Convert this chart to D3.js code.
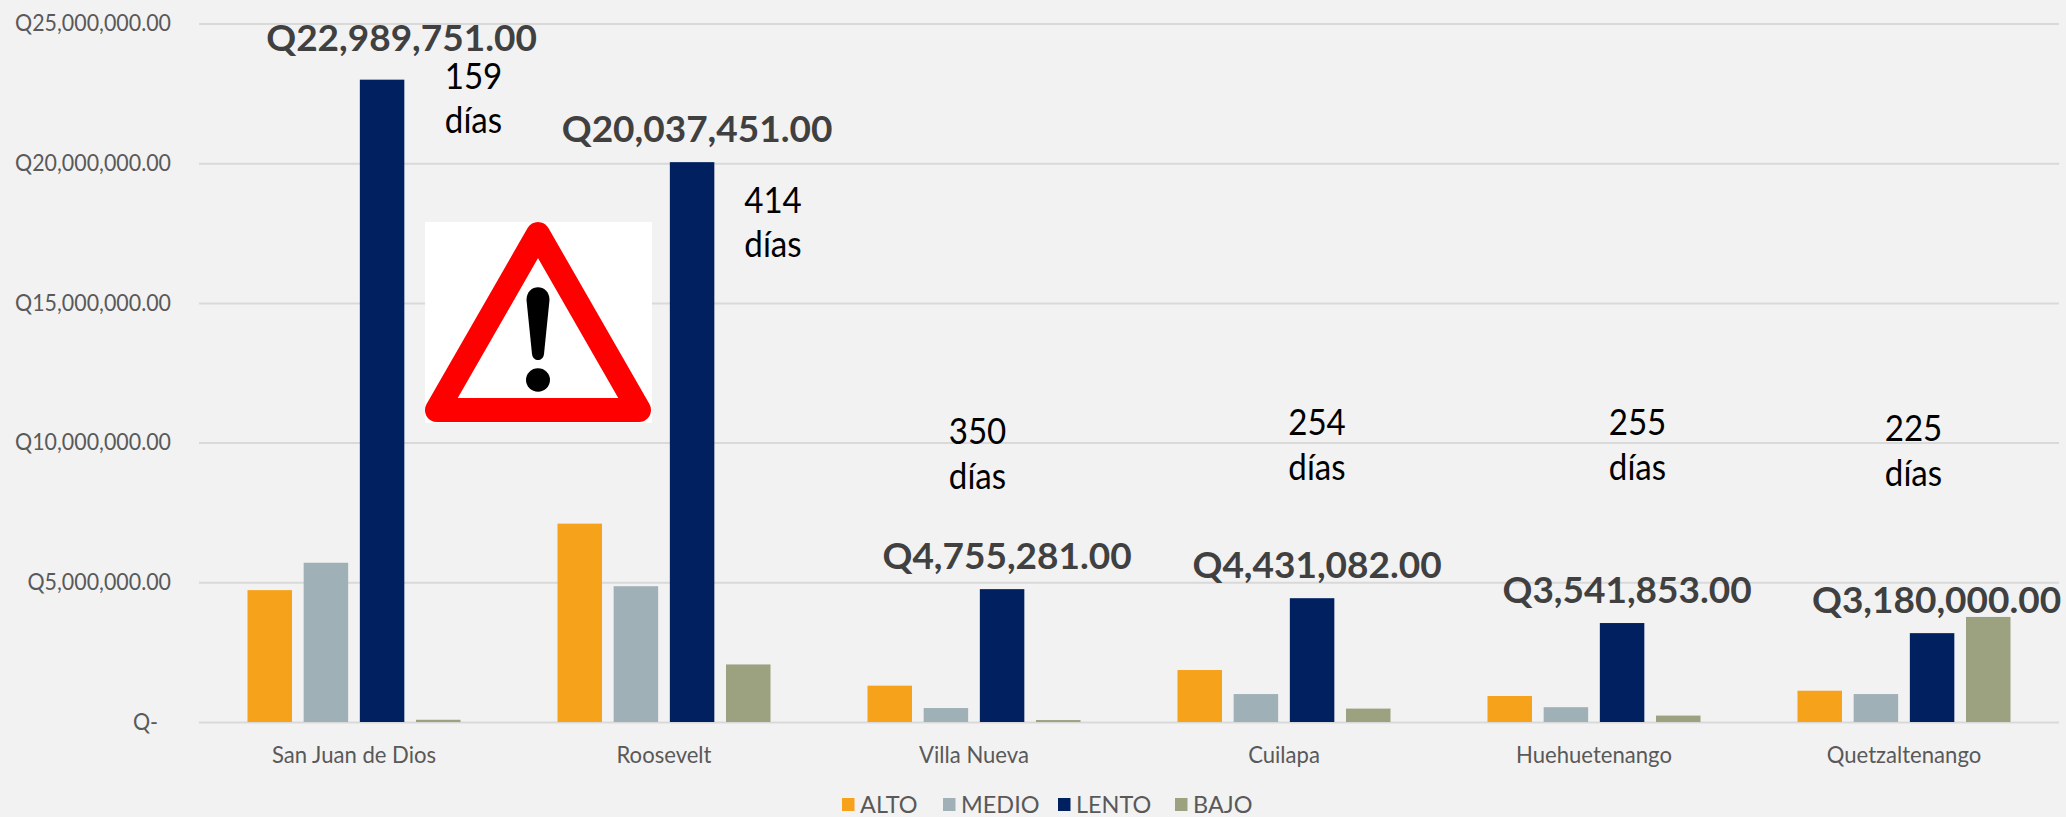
<!DOCTYPE html>
<html><head><meta charset="utf-8">
<script src="https://cdn.jsdelivr.net/npm/d3@7"></script>
<style>
html,body{margin:0;padding:0;background:#f2f2f2;overflow:hidden}
svg{display:block}
text{font-family:Lato,"Open Sans",sans-serif}
</style></head><body>
<svg id="c" width="2066" height="817"></svg>
<script>
// ---- data ----
const categories = ["San Juan de Dios","Roosevelt","Villa Nueva","Cuilapa","Huehuetenango","Quetzaltenango"];
const seriesNames = ["ALTO","MEDIO","LENTO","BAJO"];
const alto  = [4720000,7100000,1300000,1860000,930000,1120000];
const medio = [5700000,4860000,500000,1000000,530000,1000000];
const lento = [22989751,20037451,4755281,4431082,3541853,3180000];
const bajo  = [80000,2060000,70000,480000,230000,3760000];
const dias  = [159,414,350,254,255,225];
const yTicks = [0,5000000,10000000,15000000,20000000,25000000];

// ---- layout and style ----
const W=2066,H=817;
const m={left:199,right:2059,top:23.5,bottom:722};
const colors=["#F7A21B","#9FB0B6","#00205F","#9CA280"];
const labelOffset=[[19.5,-29],[5,-20],[5,-20],[5,-20],[5,-20],[4.5,-20]];
const diasPos=[[473.5,88.7],[773,212.7],[977.5,444],[1317,435],[1637.5,435],[1913.5,441]];
const fmt=d3.format(",.2f");
const svg=d3.select("#c");
// squeeze the humanist fallback to the proportions of the original face
function fit(sel,k){sel.each(function(){const l=this.getComputedTextLength();
  this.setAttribute("textLength",l*k);this.setAttribute("lengthAdjust","spacingAndGlyphs");});}

const x0=d3.scaleBand().domain(categories).range([m.left,m.right]);
const inset=(x0.bandwidth()-213)/2;
const x1=d3.scaleBand().domain(seriesNames).range([inset,x0.bandwidth()-inset]).paddingInner(0.208);
const y=d3.scaleLinear().domain([0,25000000]).range([m.bottom,m.top]);
const color=d3.scaleOrdinal().domain(seriesNames).range(colors);
const seriesValues={ALTO:alto,MEDIO:medio,LENTO:lento,BAJO:bajo};

// y axis + grid
const ya=svg.append("g").attr("transform",`translate(${m.left},0)`)
  .call(d3.axisLeft(y).tickValues(yTicks).tickSize(-(m.right-m.left)).tickPadding(28)
    .tickFormat(d=>d===0?"Q-":"Q"+fmt(d)));
ya.select(".domain").remove();
ya.selectAll("line").attr("stroke","#d9d9d9").attr("stroke-width",2);
ya.selectAll("text").attr("fill","#595959").style("font-size","23px")
  .attr("dx",d=>d===0?-13:0).call(fit,0.93);

// bars
const groups=svg.append("g").selectAll("g").data(categories).join("g")
  .attr("transform",d=>`translate(${x0(d)},0)`);
groups.selectAll("rect").data((d,i)=>seriesNames.map(s=>({s,v:seriesValues[s][i]}))).join("rect")
  .attr("x",d=>x1(d.s)).attr("width",x1.bandwidth())
  .attr("y",d=>y(d.v)).attr("height",d=>y(0)-y(d.v)).attr("fill",d=>color(d.s));

// category labels
const xa=svg.append("g").attr("transform",`translate(0,${m.bottom})`)
  .call(d3.axisBottom(x0).tickSize(0).tickPadding(25));
xa.select(".domain").remove();
xa.selectAll("text").attr("fill","#595959").style("font-size","23px").call(fit,0.96);

// value labels
svg.append("g").selectAll("text").data(lento).join("text")
  .attr("x",(d,i)=>x0(categories[i])+x1("LENTO")+x1.bandwidth()/2+labelOffset[i][0])
  .attr("y",(d,i)=>y(d)+labelOffset[i][1])
  .attr("text-anchor","middle").attr("fill","#404040")
  .style("font-size","37px").style("font-weight","700")
  .text(d=>"Q"+fmt(d)).call(fit,1.0);

// days annotations
const dg=svg.append("g").selectAll("g").data(dias).join("g")
  .attr("transform",(d,i)=>`translate(${diasPos[i][0]},${diasPos[i][1]})`);
dg.append("text").attr("text-anchor","middle").attr("fill","#000").style("font-size","36px")
  .text(d=>d).call(fit,0.92);
dg.append("text").attr("y",44.5).attr("text-anchor","middle").attr("fill","#000").style("font-size","36px")
  .text("días").call(fit,0.92);

// warning sign
const wg=svg.append("g");
wg.append("rect").attr("x",425).attr("y",222).attr("width",227).attr("height",201).attr("fill","#fff");
wg.append("path").attr("d","M538,234L437,410L639,410Z").attr("fill","#fff")
  .attr("stroke","#f00").attr("stroke-width",24).attr("stroke-linejoin","round");
wg.append("path").attr("d","M526.5,300C526.5,283 549.5,283 549.5,300L544,354C543,362 533,362 532,354Z").attr("fill","#000");
wg.append("ellipse").attr("cx",538).attr("cy",380).attr("rx",12).attr("ry",11.7).attr("fill","#000");

// legend
const legendX=[842,943,1058,1175];
const lg=svg.append("g").selectAll("g").data(seriesNames).join("g")
  .attr("transform",(d,i)=>`translate(${legendX[i]},798)`);
lg.append("rect").attr("width",12.5).attr("height",13).attr("fill",d=>color(d));
lg.append("text").attr("x",18).attr("y",15).attr("fill","#595959").style("font-size","23px")
  .text(d=>d).call(fit,1.02);
</script>
</body></html>
